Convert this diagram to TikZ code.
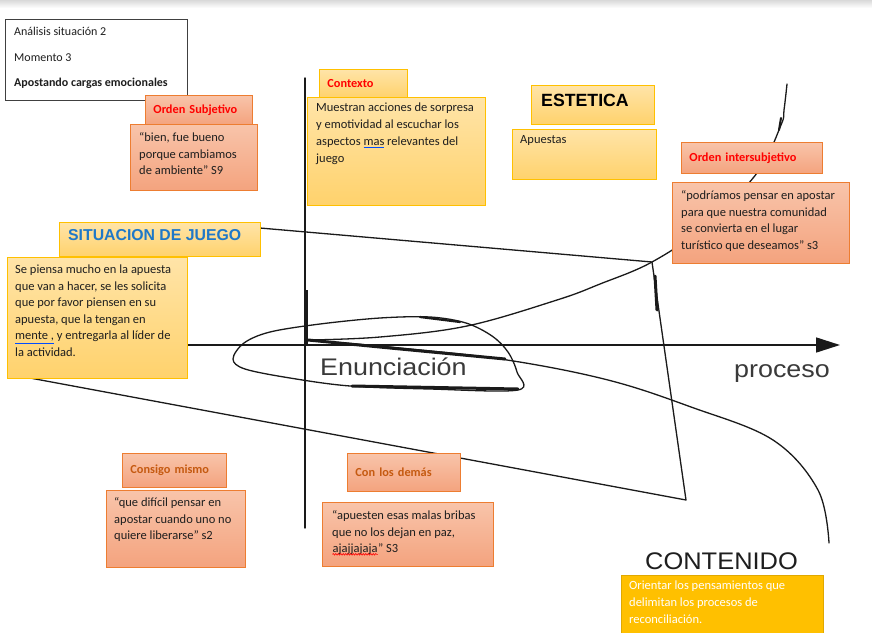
\documentclass[tikz,border=0pt]{standalone}
\usepackage{fontspec}
\setmainfont{Carlito}
\newfontfamily\arial{Liberation Sans}
\usepackage{graphicx}
\usetikzlibrary{arrows.meta,decorations.pathmorphing}
\definecolor{salTop}{HTML}{F8C4AA}
\definecolor{salBot}{HTML}{F4A37E}
\definecolor{salBorder}{HTML}{ED7D31}
\definecolor{yTop}{HTML}{FFE4A8}
\definecolor{yBot}{HTML}{FFD26C}
\definecolor{yBorder}{HTML}{FFC000}
\definecolor{orFill}{HTML}{FFC000}
\definecolor{orBorder}{HTML}{E0A800}
\definecolor{redT}{HTML}{FF0000}
\definecolor{brownT}{HTML}{C55A11}
\definecolor{blueT}{HTML}{1F78C8}
\definecolor{txtc}{HTML}{1E1E1E}
\definecolor{linec}{HTML}{1A1A1A}
\definecolor{bigT}{HTML}{3A3A3A}
\newcommand\bluel[1]{\textcolor{blue!70!cyan}{\underline{\textcolor{txtc}{#1}}}}
\newcommand\redwave[1]{\tikz[baseline=(rw.base)]{\node[inner sep=0pt] (rw) {#1}; \draw[red, line width=0.6pt, decorate, decoration={snake, amplitude=0.8pt, segment length=2.5pt}] ([yshift=-1.5pt]rw.base west) -- ([yshift=-1.5pt]rw.base east);}}
\begin{document}
\begin{tikzpicture}[x=1pt,y=-1pt,
  sbox/.style={draw=salBorder, line width=0.9pt, top color=salTop, bottom color=salBot, anchor=north west, inner sep=0pt},
  ybox/.style={draw=yBorder, line width=0.9pt, top color=yTop, bottom color=yBot, anchor=north west, inner sep=0pt},
  txt/.style={anchor=north west, align=left, inner sep=0pt, text=txtc, font=\fontsize{12.5}{16.8}\selectfont},
  lab/.style={anchor=north west, align=left, inner ysep=0pt, font=\bfseries\fontsize{12.3}{14}\selectfont},
  ln/.style={draw=linec, line width=1.3pt, line cap=round, line join=round},
  thick line/.style={draw=linec, line width=3pt, line cap=round}
]
\useasboundingbox (0,0) rectangle (872,632);
\fill[white] (0,0) rectangle (872,632);
\shade[top color=gray!30, bottom color=white] (0,0) rectangle (872,8);

% ---------- hand-drawn lines ----------
\draw[ln] (260,228) -- (652,262) -- (686,500) -- (30,378);
\draw[ln] plot[smooth, tension=0.6] coordinates {(787,84) (784,110) (781,125) (757,173) (705,226) (652,262) (600,284) (557,300) (467,326) (380,337) (308,340)};
\draw[ln] plot[smooth, tension=0.6] coordinates {(308,340) (400,348) (507,360) (608,380) (691,407) (773,440) (818,490) (829,543)};
\draw[thick line] (308,340) -- (390,348) -- (505,359);
\draw[ln] plot[smooth cycle, tension=0.55] coordinates {(518,390) (430,389) (350,386) (290,378) (245,369) (233,359) (244,343) (270,332) (320,324) (380,318) (430,317) (466,323) (492,336) (508,352) (517,372)};
\draw[thick line] (352,386) -- (518,389);
\draw[draw=linec, line width=2.2pt, line cap=round] (420,317) -- (460,322);
\draw[thick line] (655,276) -- (657,310);
\draw[draw=linec, line width=2pt, line cap=round] (781,118) -- (779,130);
% axes
\draw[ln, line width=1.4pt] (305,78) -- (305,528);
\draw[draw=linec, line width=3pt] (306,290) -- (306,345);
\draw[ln, line width=1.6pt, -{Triangle[length=24pt,width=15pt]}] (188,345) -- (840,345);

% ---------- header ----------
\node[draw=gray!50!black, line width=1pt, fill=white, anchor=north west, minimum width=182, minimum height=81, inner sep=0pt] (hdr) at (5,19) {};
\node[txt, font=\fontsize{12}{25.5}\selectfont] (hdrt) at (14,27) {Análisis situación 2\\Momento 3\\\textbf{Apostando cargas emocionales}};

% ---------- Orden subjetivo ----------
\node[sbox, minimum width=127, minimum height=66] (osq) at (130,124) {};
\node[txt] (osqt) at (139,132) {“bien, fue bueno\\porque cambiamos\\de ambiente” S9};
\node[sbox, lab, text=redT, text width=91, inner xsep=8, minimum height=29] (osl) at (145,95) {Orden Subjetivo};

% ---------- Contexto ----------
\node[ybox, minimum width=178, minimum height=108] (ctx) at (307,97) {};
\node[txt] (ctxt) at (316,103) {Muestran acciones de sorpresa\\y emotividad al escuchar los\\aspectos \bluel{mas} relevantes del\\juego};
\node[ybox, lab, text=redT, text width=72, inner xsep=8, minimum height=28] (ctxl) at (319,69) {Contexto};

% ---------- Estetica ----------
\node[ybox, minimum width=123, minimum height=39] (est) at (531,85) {};
\node[anchor=west, inner sep=0pt, font=\arial\bfseries\fontsize{17.7}{20}\selectfont, text=black] (estt) at (541,100) {ESTETICA};
\node[ybox, minimum width=144, minimum height=50] (apu) at (512,129) {};
\node[txt] (aput) at (520,135) {Apuestas};

% ---------- Orden intersubjetivo ----------
\node[sbox, minimum width=177, minimum height=81] (oiq) at (672,182) {};
\node[txt] (oiqt) at (681,190) {“podríamos pensar en apostar\\para que nuestra comunidad\\se convierta en el lugar\\turístico que deseamos” s3};
\node[sbox, lab, text=redT, text width=125, inner xsep=8, minimum height=31] (oil) at (681,142) {Orden intersubjetivo};

% ---------- Situacion de juego ----------
\node[ybox, minimum width=201, minimum height=34] (sj) at (59,222) {};
\node[anchor=west, inner sep=0pt, font=\arial\bfseries\fontsize{15.8}{18}\selectfont, text=blueT] (sjt) at (68,235) {SITUACION DE JUEGO};
\node[ybox, minimum width=180, minimum height=121] (sjx) at (7,257) {};
\node[txt, font=\fontsize{12.5}{16.5}\selectfont] (sjxt) at (15,265) {Se piensa mucho en la apuesta\\que van a hacer, se les solicita\\que por favor piensen en su\\apuesta, que la tengan en\\\bluel{mente ,} y entregarla al líder de\\la actividad.};

% ---------- Consigo mismo ----------
\node[sbox, lab, text=brownT, text width=88, inner xsep=8, minimum height=34] (cml) at (122,453) {Consigo mismo};
\node[sbox, minimum width=139, minimum height=77] (cmq) at (106,490) {};
\node[txt] (cmqt) at (114,497) {“que difícil pensar en\\apostar cuando uno no\\quiere liberarse” s2};

% ---------- Con los demas ----------
\node[sbox, lab, text=brownT, text width=97, inner xsep=8, minimum height=38] (cdl) at (347,453) {Con los demás};
\node[sbox, minimum width=171, minimum height=64] (cdq) at (322,502) {};
\node[txt] (cdqt) at (332,510) {“apuesten esas malas bribas\\que no los dejan en paz,\\\redwave{ajajjajaja}” S3};

% ---------- big labels ----------
\node[anchor=west, inner sep=0pt, text=bigT, font=\arial\fontsize{24}{26}\selectfont] (enun) at (320,367) {\scalebox{1.12}[1]{Enunciación}};
\node[anchor=west, inner sep=0pt, text=bigT, font=\arial\fontsize{24}{26}\selectfont] (proc) at (734,374) {\scalebox{1.12}[1]{proceso}};
\node[anchor=west, inner sep=0pt, text=txtc, font=\arial\fontsize{24}{26}\selectfont] (cont) at (645,561) {\scalebox{1.06}[1]{CONTENIDO}};

% ---------- Orange box ----------
\node[draw=orBorder, line width=0.8pt, fill=orFill, anchor=north west, minimum width=202, minimum height=60, inner sep=0pt] (orb) at (621,575) {};
\node[txt, text=white] (orbt) at (629,581) {Orientar los pensamientos que\\delimitan los procesos de\\reconciliación.};
\end{tikzpicture}
\end{document}
